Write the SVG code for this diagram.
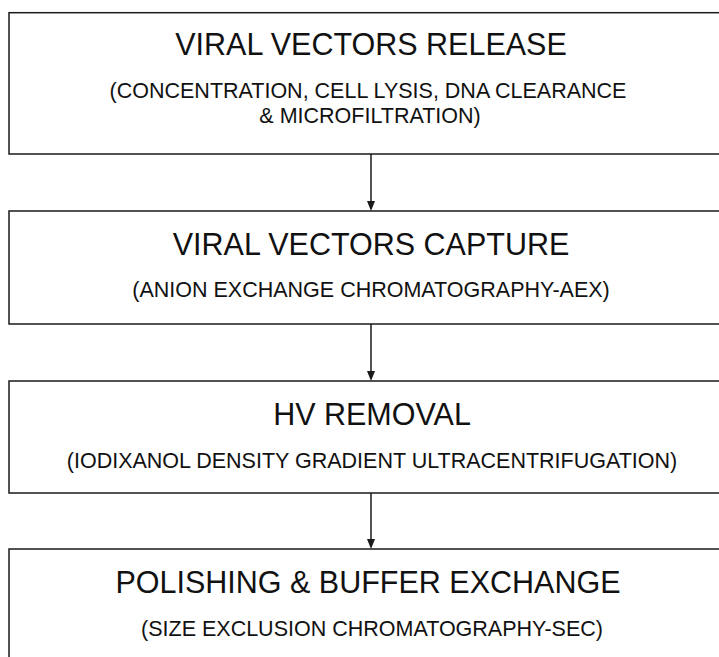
<svg xmlns="http://www.w3.org/2000/svg" width="719" height="657" viewBox="0 0 719 657">
<defs>
<style>
.box{fill:#fff;stroke:#1a1a1a;stroke-width:1.5}
.t{font-family:"Liberation Sans",Arial,sans-serif;font-size:30.5px;fill:#111;text-anchor:middle}
.s{font-family:"Liberation Sans",Arial,sans-serif;font-size:21.5px;fill:#111;text-anchor:middle}
.c{stroke:#1a1a1a;stroke-width:1.5;fill:none}
.ah{fill:#1a1a1a}
</style>
</defs>
<rect width="719" height="657" fill="#fff"/>
<g id="connectors">
<line class="c" x1="371" y1="154" x2="371" y2="203"/>
<path class="ah" d="M367,201 L375,201 L371,211 Z"/>
<line class="c" x1="371" y1="324" x2="371" y2="373"/>
<path class="ah" d="M367,371 L375,371 L371,381 Z"/>
<line class="c" x1="371" y1="493" x2="371" y2="541"/>
<path class="ah" d="M367,539 L375,539 L371,549 Z"/>
</g>
<g id="node-release">
<rect class="box" x="9" y="12.7" width="730" height="141.3"/>
<text class="t" x="371" y="55">VIRAL VECTORS RELEASE</text>
<text class="s" x="368" y="98">(CONCENTRATION, CELL LYSIS, DNA CLEARANCE</text>
<text class="s" x="370" y="123">&amp; MICROFILTRATION)</text>
</g>
<g id="node-capture">
<rect class="box" x="9" y="211" width="730" height="113"/>
<text class="t" x="371" y="255">VIRAL VECTORS CAPTURE</text>
<text class="s" x="371" y="297">(ANION EXCHANGE CHROMATOGRAPHY-AEX)</text>
</g>
<g id="node-hv">
<rect class="box" x="9" y="381" width="730" height="112"/>
<text class="t" x="372" y="425">HV REMOVAL</text>
<text class="s" x="372" y="468">(IODIXANOL DENSITY GRADIENT ULTRACENTRIFUGATION)</text>
</g>
<g id="node-polishing">
<rect class="box" x="9" y="549" width="730" height="130"/>
<text class="t" x="368" y="593">POLISHING &amp; BUFFER EXCHANGE</text>
<text class="s" x="372" y="636">(SIZE EXCLUSION CHROMATOGRAPHY-SEC)</text>
</g>
</svg>
